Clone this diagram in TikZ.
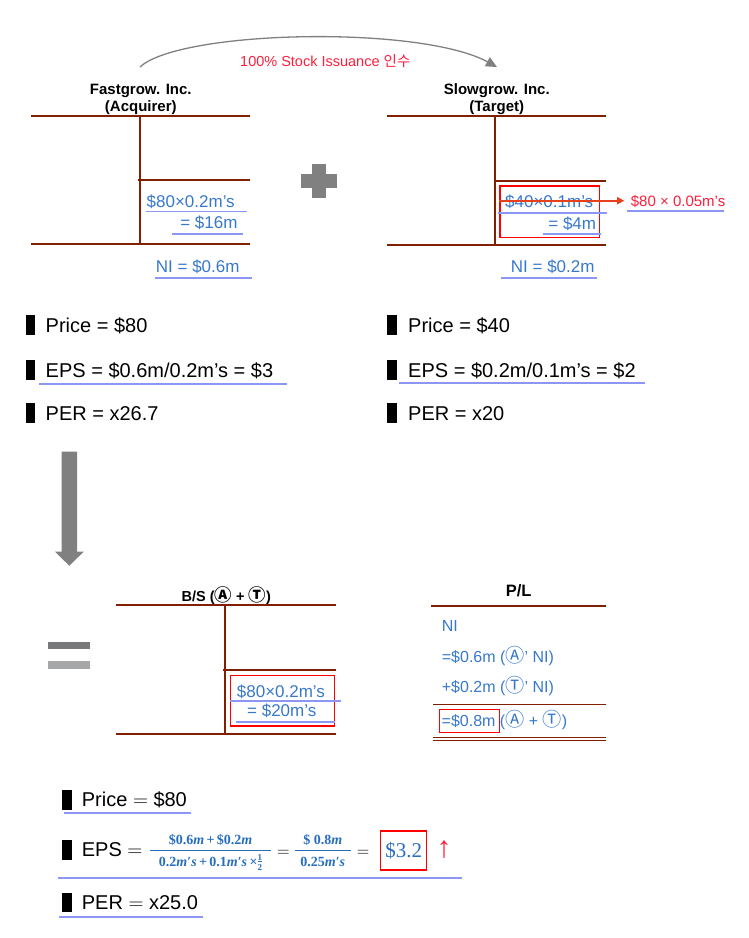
\documentclass[tikz,border=0pt]{standalone}
\usepackage{graphicx}
\usepackage[no-math]{fontspec}
\setmainfont{Liberation Sans}
\newfontfamily\kr{Noto Sans CJK KR}
\newfontfamily\cam{Liberation Serif}
\usetikzlibrary{arrows.meta}
\definecolor{tred}{RGB}{128,32,0}
\definecolor{tblue}{RGB}{55,120,205}
\definecolor{fblue}{RGB}{40,110,190}
\definecolor{uline}{RGB}{140,150,245}
\definecolor{lred}{RGB}{255,30,60}
\definecolor{sred}{RGB}{232,64,28}
\definecolor{mgray}{RGB}{128,128,128}
\definecolor{eqdark}{RGB}{119,121,123}
\definecolor{eqlight}{RGB}{165,167,169}
\newcommand\cA{\scalebox{1.2}{\kr Ⓐ}}
\newcommand\cT{\scalebox{1.2}{\kr Ⓣ}}
\newcommand\mi[1]{{\itshape #1}}
\newcommand\half{\raisebox{-4pt}{\fontsize{9}{9}\selectfont\shortstack{\underline{1}\\[-1pt]2}}}
\begin{document}
\begin{tikzpicture}[x=1pt,y=-1pt,
  tl/.style={draw=tred,line width=2pt},
  ul/.style={draw=uline,line width=1.9pt},
  bt/.style={text=tblue,font=\fontsize{17}{20}\selectfont,inner sep=0},
  ttl/.style={font=\bfseries\fontsize{15}{17}\selectfont,inner sep=0,anchor=base},
  big/.style={font=\fontsize{20}{24}\selectfont,inner sep=0,anchor=base west},
  pl/.style={text=tblue,font=\fontsize{16}{19}\selectfont,inner sep=0,anchor=base west},
  fr/.style={text=fblue,font=\cam\bfseries\fontsize{14}{16}\selectfont,inner sep=0,anchor=base},
  rbox/.style={draw=red,line width=1.1pt},
  sarr/.style={draw=sred,line width=1.6pt,-{Triangle[length=7pt,width=7pt]}},
  arc/.style={draw=mgray,line width=1.3pt,-{Triangle[length=11pt,width=10pt]}},
]
\useasboundingbox (0,0) rectangle (748,938);

% top arc
\coordinate (arcS) at (140,67);
\coordinate (arcE) at (497,67);
\draw[arc] (arcS) .. controls (180,30) and (420,25) .. (arcE);
\node[anchor=base west,text=lred,font=\fontsize{14.5}{17}\selectfont,inner sep=0] (issue) at (240,66) {100\% Stock Issuance {\kr 인수}};

% titles
\node[ttl] (fg1) at (140.8,94.3) {Fastgrow. Inc.};
\node[ttl] (fg2) at (140.8,111) {(Acquirer)};
\node[ttl] (sg1) at (496.8,94.3) {Slowgrow. Inc.};
\node[ttl] (sg2) at (496.8,111) {(Target)};

% left T account
\draw[tl] (31,116) -- (250,116);
\draw[tl] (140,116) -- (140,245);
\draw[tl] (138,180) -- (250,180);
\draw[tl] (31,244) -- (250,244);
\node[bt,anchor=base west] (a1) at (146.5,207) {\$80×0.2m’s};
\draw[ul] (145.5,211.5) -- (246.5,211.5);
\node[bt,anchor=base east] (a2) at (237.7,228.3) {= \$16m};
\draw[ul] (172,233.7) -- (242.7,233.7);
\node[bt,anchor=base west] (a3) at (155.7,272.7) {NI = \$0.6m};
\draw[ul] (155,278.3) -- (252.3,278.3);

% plus
\fill[mgray] (311.7,164) rectangle (325.7,198);
\fill[mgray] (300.7,174) rectangle (336.7,187.5);

% right T account
\draw[tl] (387,116) -- (606,116);
\draw[tl] (495,116) -- (495,245);
\draw[tl] (495,181) -- (606,181);
\draw[tl] (387,245) -- (606,245);
\draw[rbox] (500,186) rectangle (599.7,237.3);
\node[bt,anchor=base west] (b1) at (505,207.7) {\$40×0.1m’s};
\draw[ul] (498,212.7) -- (607.3,212.7);
\node[bt,anchor=base east] (b2) at (596.3,229) {= \$4m};
\draw[ul] (543.3,233.7) -- (600.7,233.7);
\node[anchor=base west,text=lred,font=\fontsize{15}{18}\selectfont,inner sep=0] (r80) at (630.7,206.7) {\$80 × 0.05m’s};
\draw[ul] (627.3,211) -- (724,211);
\coordinate (sk) at (499.3,200.7);
\draw[sarr] (sk) -- ([xshift=-6.5pt]r80.west |- sk);
\node[bt,anchor=base west] (b3) at (510.7,272.7) {NI = \$0.2m};
\draw[ul] (501,278.3) -- (597.3,278.3);

% bullet lists
\fill[black] (25.7,315.3) rectangle (35,334.8);
\fill[black] (25.7,360) rectangle (35,379.5);
\fill[black] (25.7,403) rectangle (35,422.5);
\node[big] (lp) at (45.5,332.3) {Price = \$80};
\node[big] (le) at (45.5,377) {EPS = \$0.6m/0.2m’s = \$3};
\draw[ul] (39,383.7) -- (287,383.7);
\node[big] (lr) at (45.5,420) {PER = x26.7};

\fill[black] (387.3,315.3) rectangle (397,334.8);
\fill[black] (387.3,360) rectangle (397,379.5);
\fill[black] (387.3,403) rectangle (397,422.5);
\node[big] (rp) at (408,332.3) {Price = \$40};
\node[big] (re) at (408,377) {EPS = \$0.2m/0.1m’s = \$2};
\draw[ul] (399,382.7) -- (645,382.7);
\node[big] (rr) at (408,420) {PER = x20};

% down arrow
\fill[mgray] (61.6,451.7) -- (77,451.7) -- (77,551.7) -- (83.7,551.7) -- (69.3,565.7) -- (55,551.7) -- (61.6,551.7) -- cycle;

% equal sign
\fill[eqdark] (48.3,641.7) rectangle (90.3,649.3);
\fill[eqlight] (48.3,661) rectangle (90.3,668.7);

% B/S
\node[ttl,font=\bfseries\fontsize{14.5}{17}\selectfont] (bs) at (226.3,601) {B/S (\cA{} + \cT)};
\draw[tl] (116,605) -- (336,605);
\draw[tl] (225,605) -- (225,734);
\draw[tl] (223,670) -- (336,670);
\draw[tl] (116,734) -- (336,734);
\draw[rbox] (230.3,675.7) rectangle (334.7,726);
\node[bt,anchor=base west] (c1) at (236.7,697.5) {\$80×0.2m’s};
\draw[ul] (230,701) -- (340.7,701);
\node[bt,anchor=base west] (c2) at (247,716.7) {= \$20m’s};
\draw[ul] (236,722) -- (334.7,722);

% P/L
\node[ttl,font=\bfseries\fontsize{16.5}{19}\selectfont] (pl) at (518.7,596.7) {P/L};
\draw[draw=tred,line width=2.2pt] (431,605.7) -- (606,605.7);
\node[pl] (n0) at (441.7,631.7) {NI};
\node[pl] (n1) at (441.7,662.7) {=\$0.6m (\cA’ NI)};
\node[pl] (n2) at (441.7,692.3) {+\$0.2m (\cT’ NI)};
\draw[draw=tred,line width=1pt] (433,704.3) -- (606,704.3);
\draw[rbox] (439.3,709.3) rectangle (499.3,732.7);
\node[pl] (n3) at (441.5,726.7) {=\$0.8m (\cA{} + \cT)};
\draw[draw=tred,line width=0.9pt] (433,737.7) -- (606,737.7);
\draw[draw=tred,line width=0.9pt] (433,740.9) -- (606,740.9);

% bottom
\fill[black] (61.7,790) rectangle (71.7,810);
\fill[black] (61.7,840) rectangle (71.7,860);
\fill[black] (61.7,893) rectangle (71.7,911.7);
\node[big] (bp) at (81.7,806.7) {Price $=$ \$80};
\draw[ul] (64,813.3) -- (190.7,813.3);
\node[big] (be) at (81.7,856.7) {EPS $=$};
\node[fr] (f1n) at (210.5,844) {\$0.6\mi{m}\,+\,\$0.2\mi{m}};
\node[fr] (f1d) at (210.5,866) {0.2\mi{m}′\mi{s}\,+\,0.1\mi{m}′\mi{s}\,×\half};
\draw[draw=fblue,line width=1.2pt] (150,850.7) -- (270.7,850.7);
\node[inner sep=0,font=\fontsize{19}{22}\selectfont,anchor=base] (eq2) at (283.3,856.7) {$=$};
\node[fr] (f2n) at (322.8,844) {\$ 0.8\mi{m}};
\node[fr] (f2d) at (322.8,866) {0.25\mi{m}′\mi{s}};
\draw[draw=fblue,line width=1.2pt] (295,850.7) -- (350.7,850.7);
\node[inner sep=0,font=\fontsize{19}{22}\selectfont,anchor=base] (eq3) at (363,856.7) {$=$};
\node[rbox,text=fblue,minimum width=46pt,minimum height=39pt,inner sep=0,font=\cam\fontsize{21}{24}\selectfont] (res) at (403.7,850.5) {\$3.2};
\node[text=lred,font=\fontsize{30}{34}\selectfont,inner sep=0] (up) at (444,850) {↑};
\draw[ul] (58.3,877.7) -- (461.7,877.7);
\node[big] (br) at (81.7,909) {PER $=$ x25.0};
\draw[ul] (59.3,917.3) -- (202.7,917.3);
\end{tikzpicture}
\end{document}
